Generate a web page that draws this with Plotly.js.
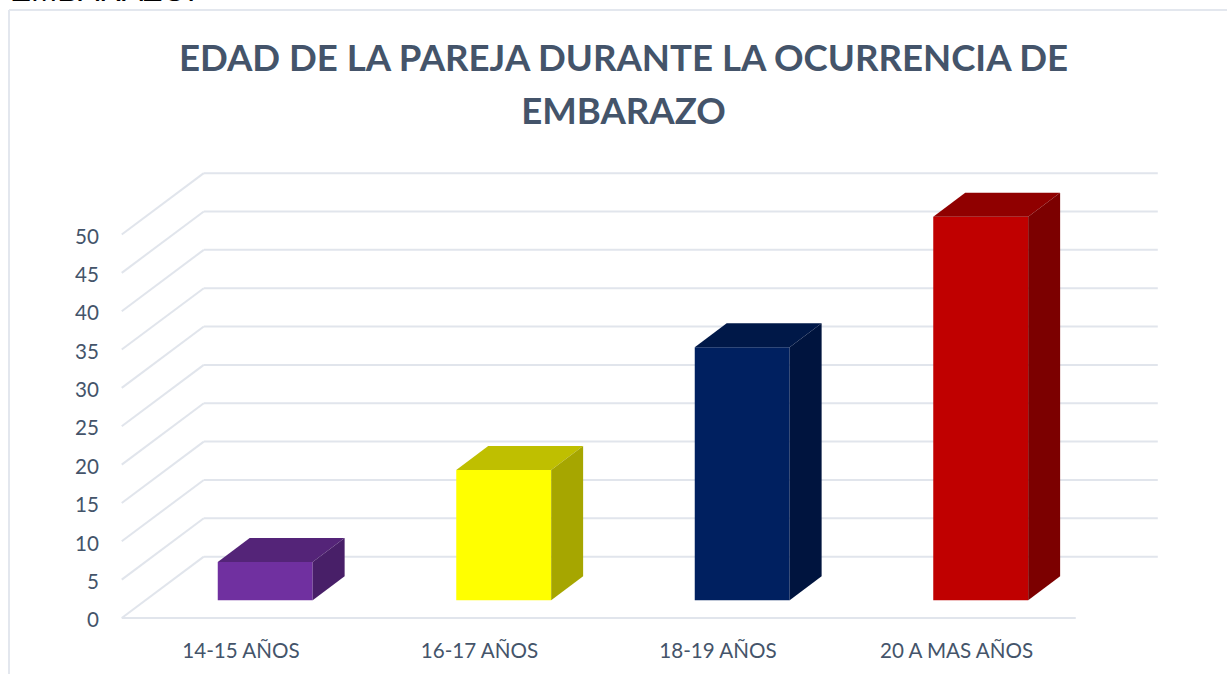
<!DOCTYPE html>
<html>
<head>
<meta charset="utf-8">
<script src="https://cdn.plot.ly/plotly-3.0.1.min.js"></script>
<style>html,body{margin:0;padding:0;background:#fff;overflow:hidden}#chart{width:1227px;height:674px}</style>
</head>
<body>
<div id="chart"></div>
<script>
const categories = ["14-15 AÑOS", "16-17 AÑOS", "18-19 AÑOS", "20 A MAS AÑOS"];
const values = [5, 17, 33, 50];
const frontColors = ["#7030A0", "#FFFF00", "#002060", "#C00000"];
const topColors = ["#542478", "#BFBF00", "#001848", "#900000"];
const sideColors = ["#481F68", "#A6A600", "#00143E", "#7C0000"];
const yTicks = [0, 5, 10, 15, 20, 25, 30, 35, 40, 45, 50];

const W = 1227, H = 674;
const L = 120, R = 1160, T = 170, B = 620;
const xPx = 238.5, x0Px = 241, yPx = 7.67, y0Px = 618;
const gridColor = "#E1E5EC", textColor = "#44546A";
const wallDX = 0.344, wallDY = 8;
const barShift = 0.1015, barWidth = 0.398, barBase = 2.3, barDX = 0.134, barDY = 3.13;

const px2x = p => (p - L) / (R - L), px2y = p => (B - p) / (B - T);
const pos = categories.map((_, i) => i);
const barX = pos.map(i => i + barShift);

const traces = [{
  type: "bar", x: barX, y: values, base: values.map(() => barBase), width: barWidth,
  marker: {color: frontColors, line: {width: 0}}, hoverinfo: "skip", showlegend: false
}];
values.forEach((v, i) => {
  const l = barX[i] - barWidth / 2, r = barX[i] + barWidth / 2, t = barBase + v;
  traces.push({
    type: "scatter", mode: "none", fill: "toself", fillcolor: topColors[i],
    x: [l, r, r + barDX, l + barDX, l], y: [t, t, t + barDY, t + barDY, t],
    hoverinfo: "skip", showlegend: false
  });
  traces.push({
    type: "scatter", mode: "none", fill: "toself", fillcolor: sideColors[i],
    x: [r, r + barDX, r + barDX, r, r], y: [barBase, barBase + barDY, t + barDY, t, barBase],
    hoverinfo: "skip", showlegend: false
  });
});

const left = -0.5, right = categories.length - 0.5;
const gridLine = {color: gridColor, width: 2};
const shapes = [];
yTicks.forEach(v => {
  shapes.push({type: "line", layer: "below", xref: "x", yref: "y", x0: left, y0: v, x1: left + wallDX, y1: v + wallDY, line: gridLine});
  shapes.push({type: "line", layer: "below", xref: "x", yref: "y", x0: left + wallDX, y0: v + wallDY, x1: right + wallDX, y1: v + wallDY, line: gridLine});
});
shapes.push({type: "line", layer: "below", xref: "x", yref: "y", x0: left, y0: 0, x1: right, y1: 0, line: gridLine});
shapes.push({type: "line", layer: "below", xref: "paper", yref: "paper", x0: px2x(9), y0: px2y(674), x1: px2x(9), y1: px2y(10), line: {color: "#E3E7EE", width: 2}});
shapes.push({type: "line", layer: "below", xref: "paper", yref: "paper", x0: px2x(9), y0: px2y(10), x1: px2x(1227), y1: px2y(10), line: {color: "#E3E7EE", width: 2}});

const titleSpan = s => '<span style="font-size:36.6px">' + s + '</span>';
const layout = {
  width: W, height: H, autosize: false,
  margin: {l: L, r: W - R, t: T, b: H - B, pad: 0},
  paper_bgcolor: "#fff", plot_bgcolor: "rgba(0,0,0,0)",
  title: {
    text: titleSpan("EDAD DE LA PAREJA DURANTE LA OCURRENCIA DE") + "<br>" + titleSpan("EMBARAZO"),
    font: {family: "Lato, 'Open Sans', sans-serif", size: 41, color: textColor, weight: 700},
    x: 623.5 / W, xanchor: "center", xref: "container", y: 1 - 71 / H, yanchor: "middle"
  },
  xaxis: {
    range: [(L - x0Px) / xPx, (R - x0Px) / xPx], tickmode: "array", tickvals: pos, ticktext: categories,
    showgrid: false, zeroline: false, showline: false, ticks: "outside", ticklen: 12, tickcolor: "rgba(0,0,0,0)",
    tickfont: {family: "Lato, sans-serif", size: 20.6, color: textColor}, fixedrange: true
  },
  yaxis: {
    range: [(y0Px - B) / yPx, (y0Px - T) / yPx], tickmode: "array", tickvals: yTicks, ticktext: yTicks.map(String),
    showgrid: false, zeroline: false, showline: false, ticks: "outside", ticklen: 16, tickcolor: "rgba(0,0,0,0)",
    ticklabelshift: 2,
    tickfont: {family: "Lato, sans-serif", size: 20.6, color: textColor}, fixedrange: true
  },
  shapes: shapes,
  annotations: [{
    text: "EMBARAZO.", showarrow: false, xref: "paper", yref: "paper",
    x: px2x(8), xanchor: "left", y: px2y(-10), yanchor: "middle",
    font: {family: "Liberation Sans, Arial, sans-serif", size: 31.5, color: "#000"}
  }],
  showlegend: false
};
Plotly.newPlot("chart", traces, layout, {displayModeBar: false, responsive: false});
</script>
</body>
</html>
